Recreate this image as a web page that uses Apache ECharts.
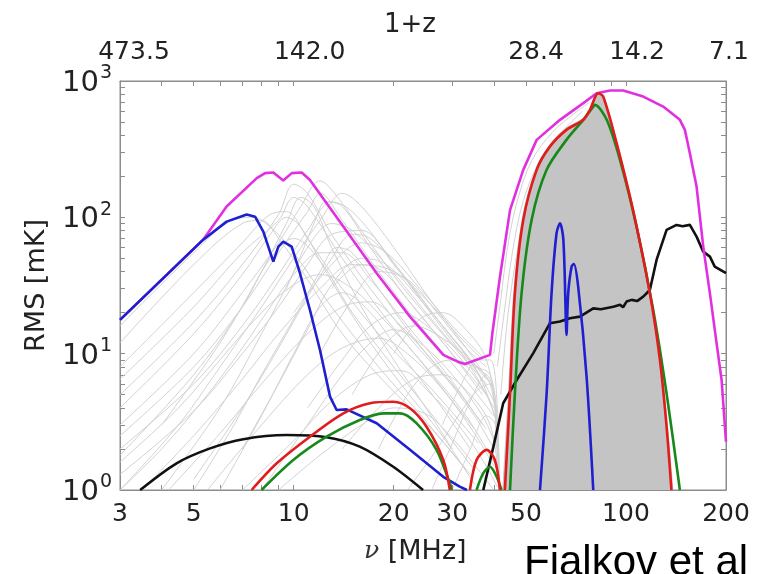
<!DOCTYPE html>
<html><head><meta charset="utf-8">
<script src="https://cdn.jsdelivr.net/npm/echarts@6/dist/echarts.min.js"></script>
<style>html,body{margin:0;padding:0;background:#fff}#c{width:759px;height:574px}</style>
</head><body><div id="c"></div>
<script>
// ---- axes / tick labels ----
const xTickLabels = [3, 5, 10, 20, 30, 50, 100, 200];
const xMinorTicks = [4, 5, 6, 7, 8, 9, 10, 20, 30, 40, 50, 60, 70, 80, 90, 100, 200];
const yMinorTicks = [2, 3, 4, 5, 6, 7, 8, 9, 10, 20, 30, 40, 50, 60, 70, 80, 90, 100, 200, 300, 400, 500, 600, 700, 800, 900];
const topTickValues = [3, 10, 50, 100, 200];
const topTickLabels = ['473.5', '142.0', '28.4', '14.2', '7.1'];

// ---- highlighted curves [nu MHz, RMS mK] ----
const magentaMax = [[3, 17.7], [5.33, 68.3], [6.28, 120], [7.74, 194], [8.2, 211], [8.68, 213], [9.3, 186], [9.86, 211], [10.57, 213], [11.19, 188], [14.1, 85.5], [17.77, 38.9], [22.38, 18.7], [28.19, 9.8], [31.27, 8.7], [32.76, 8.4], [38.97, 9.8], [39.6, 14], [41.76, 36.7], [44.77, 113], [49.07, 223], [53.85, 370], [63.3, 519], [74.4, 688], [81.6, 814], [89.5, 851], [98.1, 851], [112.7, 769], [129.4, 649], [145.3, 519], [150.4, 438], [155.7, 295], [163.1, 168], [170.8, 61], [178.9, 27.7], [187.4, 11.9], [194, 6.41], [200, 2.26]];
const blueLow = [[3, 17.7], [5.33, 68.3], [6.28, 93], [7.22, 105], [7.65, 101], [8.1, 78.5], [8.68, 47.3], [8.99, 61], [9.3, 66.3], [9.86, 61], [10.44, 38.9], [11.19, 20.9], [12.0, 10.6], [12.86, 4.84], [13.46, 3.86], [14.43, 3.9], [17.77, 3.09], [22.38, 1.97], [28.19, 1.25], [31.6, 1.06], [33.2, 1.0]];
const blueHigh = [[55.1, 1], [57.7, 5.1], [59.7, 27.7], [61.8, 76.4], [63.3, 90.5], [64.8, 68.3], [66.0, 15.8], [66.2, 13.7], [67.0, 27.7], [68.6, 43.5], [69.7, 45.5], [71.8, 31], [76.1, 6.8], [79.7, 1]];
const redLow = [[7.47, 1], [8.89, 1.57], [11.19, 2.46], [14.1, 3.65], [16.96, 4.33], [19.93, 4.44], [22.38, 3.98], [25.1, 2.91], [28.19, 1.66], [29.5, 1]];
const redMid = [[33.9, 1], [35.5, 1.66], [38.1, 1.97], [40.3, 1.66], [41.76, 1]];
const redHigh = [[43.2, 1], [44.77, 5.1], [46.3, 27.7], [49.07, 95.7], [53.85, 223], [59.0, 330], [66.2, 438], [74.4, 519], [77.9, 614], [82.5, 814], [85.4, 769], [93.7, 350], [105, 113], [118, 27.7], [126.5, 9.0], [132.5, 2.91], [137, 1]];
const greenLow = [[8.0, 1], [9.97, 1.66], [12.56, 2.46], [15.8, 3.26], [18.6, 3.65], [20.9, 3.65], [23.4, 3.09], [26.9, 1.97], [29.5, 1.12], [29.9, 1]];
const greenMid = [[35.5, 1], [37.2, 1.33], [38.97, 1.48], [40.8, 1.25], [42.2, 1]];
const greenHigh = [[44.77, 1], [46.3, 5.1], [48.5, 27.7], [52.0, 95.7], [57.7, 223], [66.2, 370], [74.4, 519], [79.7, 649], [80.6, 668], [87.5, 519], [95.9, 264], [107.6, 85.5], [120.8, 20.9], [132.5, 5.1], [145.3, 1]];
const blackLow = [[3.45, 1], [4.44, 1.57], [5.6, 2.02], [7.05, 2.36], [9.52, 2.53], [12.56, 2.44], [15.8, 2.08], [19.93, 1.48], [24.5, 1]];
const blackHigh = [[37.2, 1], [39.9, 2.08], [42.7, 4.33], [46.9, 6.41], [52.6, 10.1], [59.0, 16.7], [63.3, 17.2], [67.8, 18.2], [72.7, 18.7], [79.7, 21.5], [84, 21.2], [91.6, 22.1], [96, 22.8], [98, 21.9], [100.4, 24.1], [104, 24.8], [108, 24.3], [112.7, 26.2], [118, 29.3], [123.6, 48.7], [132.5, 80.8], [142, 88], [148, 86], [155.7, 88], [163.1, 72.2], [170.8, 56], [178.9, 51.5], [185, 43.5], [200, 38.9]];
const greyFill = [[42.5, 1], [44.2, 5.5], [45.8, 28], [48.6, 98], [53.4, 228], [58.6, 338], [65.6, 450], [73.8, 530], [77.5, 630], [82, 820], [85.8, 760], [94.5, 350], [106, 112], [119, 27], [128, 8.5], [134, 2.8], [139, 1]];

// ---- individual model curves (grey) ----
const grey01 = [[3, 12], [5, 45], [7, 90], [8, 95], [9, 70], [11, 35], [14, 14], [19, 6], [26, 2.8], [34, 1.3]];
const grey02 = [[3, 8], [5, 28], [7, 65], [8.5, 105], [9.5, 110], [11, 70], [14, 30], [19, 12], [26, 5.5], [36, 2.2]];
const grey03 = [[3, 5], [5, 17], [7, 45], [9, 105], [10, 175], [11, 150], [13, 75], [17, 30], [23, 12], [32, 5]];
const grey04 = [[3, 3], [5, 10], [7, 28], [9, 65], [10.5, 120], [12, 185], [13, 160], [16, 80], [21, 32], [28, 14], [38, 6]];
const grey05 = [[3, 2], [5, 6], [7, 16], [9, 38], [11, 80], [13, 130], [15, 110], [19, 55], [25, 22], [33, 9], [40, 4]];
const grey06 = [[3, 1.3], [5, 3.8], [7, 10], [9, 22], [11, 45], [13, 75], [16, 80], [20, 45], [27, 18], [36, 7], [41, 3]];
const grey07 = [[3.5, 1], [5, 2.5], [7, 6.5], [9, 14], [12, 30], [15, 45], [18, 42], [22, 25], [29, 11], [38, 5]];
const grey08 = [[4.2, 1], [6, 2.6], [8, 6], [11, 14], [14, 22], [17, 24], [21, 16], [27, 8], [35, 3.5], [40, 2]];
const grey09 = [[5.5, 1], [8, 3], [11, 7], [14, 11], [18, 13], [22, 10], [28, 5.5], [35, 2.6], [40, 1.5]];
const grey10 = [[7, 1], [10, 2.3], [13, 4.5], [17, 7], [21, 7.5], [26, 5], [32, 2.8], [38, 1.5], [41, 1.05]];
const grey11 = [[9, 1], [12, 1.8], [16, 3], [20, 4], [25, 3.6], [30, 2.4], [36, 1.4], [40, 1]];
const grey12 = [[4, 3], [6, 12], [8, 40], [9.5, 90], [10.5, 140], [11.5, 120], [13, 60], [16, 22], [20, 9], [25, 4], [30, 2]];
const grey13 = [[3, 1], [4.5, 3], [6, 8], [8, 22], [10, 50], [12, 95], [14, 150], [16, 120], [20, 60], [26, 24], [34, 10], [40, 5.5]];
const grey14 = [[12, 10], [15, 25], [18, 40], [22, 35], [27, 20], [33, 11], [38, 8]];
const grey15 = [[10, 20], [13, 45], [16, 65], [19, 55], [24, 30], [30, 16], [37, 9.5]];
const grey16 = [[15, 5], [19, 12], [23, 16], [28, 13], [34, 9], [39, 6], [41, 2], [41.5, 1]];
const grey17 = [[26, 1], [30, 2.2], [34, 4.5], [38, 7], [40, 5], [41, 1.5]];
const grey18 = [[22, 1], [27, 2], [32, 3.8], [36, 5.5], [39, 6], [41, 2.5], [41.5, 1]];
const grey19 = [[30, 1], [34, 2], [38, 3.5], [40.5, 3], [41.5, 1]];
const grey20 = [[40, 10], [42, 25], [44, 60], [47, 130], [52, 260], [60, 420], [70, 580], [78, 700]];
const grey21 = [[41, 8], [43, 20], [45.5, 55], [49, 130], [55, 260], [64, 420], [74, 600]];
const grey22 = [[42, 5], [44, 18], [47, 55], [51, 140], [57, 260], [66, 410]];
const grey23 = [[6, 1], [8, 3.5], [10, 10], [12, 22], [14, 28], [17, 20], [21, 10], [27, 4.5], [34, 2]];
const grey24 = [[3, 1.8], [5, 7], [7, 22], [8.5, 50], [10, 70], [12, 48], [15, 20], [20, 8], [27, 3.2], [35, 1.4]];
const grey25 = [[3, 16], [5, 55], [6.5, 95], [7.5, 100], [8.5, 85], [10, 55], [13, 22], [18, 8], [25, 3.2], [33, 1.4]];
const grey26 = [[4, 1], [6, 4], [8, 14], [10, 40], [11.5, 90], [12.5, 130], [14, 120], [17, 60], [22, 25], [29, 11], [37, 5]];
const grey27 = [[5, 1.2], [7, 4], [9, 11], [11, 26], [13, 50], [15, 75], [17, 70], [21, 40], [27, 18], [35, 8], [41, 4]];
const grey28 = [[8, 1], [11, 3], [14, 7], [17, 12], [20, 15], [24, 12], [30, 7], [37, 3.5], [41, 2]];
const grey29 = [[3, 6.5], [5, 22], [7, 55], [9, 95], [10, 140], [11, 120], [14, 50], [19, 18], [26, 7], [35, 2.8]];
const grey30 = [[3, 2.5], [5, 8], [7, 22], [9, 55], [11, 110], [12, 150], [14, 95], [18, 40], [24, 16], [32, 7], [40, 3.5]];
const grey31 = [[9.5, 30], [11, 60], [13, 90], [15, 80], [19, 45], [25, 20], [32, 10], [38, 7]];
const grey32 = [[13, 30], [16, 45], [20, 40], [25, 25], [31, 14], [37, 9]];
const grey33 = [[7, 2], [9, 6], [11, 15], [13, 32], [16, 50], [19, 45], [24, 25], [31, 12], [38, 6.5]];
const grey34 = [[11, 4], [14, 9], [17, 16], [21, 20], [26, 15], [32, 9], [38, 5], [41, 3]];
const grey35 = [[3, 1], [4, 2], [5.5, 5], [7, 11], [8.5, 22], [10, 38], [12, 55], [14, 55], [17, 35], [22, 16], [29, 7], [37, 3]];
const grey36 = [[5, 1], [6.5, 2.8], [8, 7], [10, 18], [12, 40], [13.5, 60], [15, 55], [18, 30], [23, 13], [30, 6], [38, 2.8]];
const grey37 = [[18, 2], [22, 5], [26, 8], [30, 9], [35, 8], [39, 7], [41, 3], [41.5, 1]];
const grey38 = [[14, 2], [18, 4], [23, 6.5], [28, 7], [34, 5], [39, 3], [41, 1.5]];
const grey39 = [[3, 4], [5, 14], [7, 38], [8.5, 75], [9.5, 100], [10.5, 85], [12.5, 40], [16, 15], [21, 6], [28, 2.5], [35, 1.1]];
const grey40 = [[20, 10], [24, 18], [28, 20], [33, 15], [38, 9], [41, 3], [41.5, 1]];
const grey41 = [[28, 3], [32, 6], [36, 9], [39, 9], [41, 4], [41.5, 1]];
const grey42 = [[3, 1.6], [4.5, 4], [6, 9], [8, 20], [10, 32], [12, 38], [15, 30], [19, 17], [25, 8], [33, 3.5], [40, 1.6]];
const greyList = [grey01, grey02, grey03, grey04, grey05, grey06, grey07, grey08, grey09, grey10, grey11, grey12, grey13, grey14,
  grey15, grey16, grey17, grey18, grey19, grey20, grey21, grey22, grey23, grey24, grey25, grey26, grey27, grey28, grey29, grey30,
  grey31, grey32, grey33, grey34, grey35, grey36, grey37, grey38, grey39, grey40, grey41, grey42];

const topOffsets = [14, 16, 10, 11, 3];
const FONT = 'DejaVu Sans';
const chart = echarts.init(document.getElementById('c'), null, {renderer: 'canvas'});

const series = [];
greyList.forEach(function (d) {
  series.push({type: 'line', data: d, smooth: 0.35, symbol: 'none', silent: true,
    lineStyle: {color: '#d2d2d2', width: 1}, z: 1});
});
series.push({type: 'line', data: greyFill, smooth: 0.3, symbol: 'none', silent: true,
  lineStyle: {width: 0, color: '#c4c4c4'}, areaStyle: {color: '#c4c4c4', origin: 'start', opacity: 1}, z: 2});
function curve(d, color, sm, z) {
  return {type: 'line', data: d, smooth: sm, symbol: 'none', silent: true,
    lineStyle: {color: color, width: 2.6}, z: z};
}
const BLACK = '#111111', BLUE = '#1f1fd2', RED = '#e01c1c', GREEN = '#17881a', MAG = '#e030e0';
series.push(curve(blackLow, BLACK, 0.3, 3));
series.push(curve(blackHigh, BLACK, 0, 3));
series.push(curve(magentaMax, MAG, 0, 4));
series.push(curve(blueLow, BLUE, 0, 5));
series.push(curve(blueHigh, BLUE, 0.3, 5));
series.push(curve(greenLow, GREEN, 0.3, 6));
series.push(curve(greenMid, GREEN, 0.3, 6));
series.push(curve(greenHigh, GREEN, 0.3, 6));
series.push(curve(redLow, RED, 0.3, 7));
series.push(curve(redMid, RED, 0.3, 7));
series.push(curve(redHigh, RED, 0.3, 7));

const topRich = {};
topOffsets.forEach(function (o, i) { topRich['t' + i] = {padding: [0, 0, 0, 2 * o], fontSize: 25, fontFamily: FONT, color: '#222'}; });

const axisLineStyle = {show: true, lineStyle: {color: '#8c8c8c', width: 1}};
const option = {
  animation: false,
  backgroundColor: '#ffffff',
  grid: {left: 120, right: 33, top: 81, bottom: 84, show: true, borderColor: '#8c8c8c', borderWidth: 1, backgroundColor: 'transparent'},
  xAxis: [
    {type: 'log', logBase: 10, min: 3, max: 200, position: 'bottom',
      axisLine: axisLineStyle,
      axisTick: {show: true, inside: true, length: 5, customValues: xMinorTicks, lineStyle: {color: '#8c8c8c'}},
      axisLabel: {customValues: xTickLabels, margin: 12, fontSize: 25, fontFamily: FONT, color: '#222',
        formatter: function (v) { return String(Math.round(v)); }},
      splitLine: {show: false}},
    {type: 'log', logBase: 10, min: 3, max: 200, position: 'top',
      axisLine: axisLineStyle,
      axisTick: {show: true, inside: true, length: 5, customValues: xMinorTicks, lineStyle: {color: '#8c8c8c'}},
      axisLabel: {customValues: topTickValues, margin: 16, rich: topRich,
        formatter: function (v) {
          let best = 0;
          topTickValues.forEach(function (t, i) { if (Math.abs(t - v) < Math.abs(topTickValues[best] - v)) best = i; });
          return '{t' + best + '|' + topTickLabels[best] + '}';
        }},
      splitLine: {show: false}}
  ],
  yAxis: [
    {type: 'log', logBase: 10, min: 1, max: 1000, position: 'left',
      name: 'RMS [mK]', nameLocation: 'middle', nameGap: 70,
      nameTextStyle: {fontSize: 27, fontFamily: FONT, color: '#222'},
      axisLine: axisLineStyle,
      axisTick: {show: true, inside: true, length: 5, customValues: yMinorTicks, lineStyle: {color: '#8c8c8c'}},
      axisLabel: {margin: 8, formatter: function (v) {
          const e = Math.round(Math.log10(v));
          return '{b|10}{s|' + e + '}';
        },
        rich: {b: {fontSize: 29, fontFamily: FONT, color: '#222', lineHeight: 34, verticalAlign: 'bottom'},
               s: {fontSize: 19, fontFamily: FONT, color: '#222', lineHeight: 34, verticalAlign: 'top', padding: [0, 0, 0, 1]}}},
      splitLine: {show: false}},
    {type: 'log', logBase: 10, min: 1, max: 1000, position: 'right',
      axisLine: axisLineStyle,
      axisTick: {show: true, inside: true, length: 5, customValues: yMinorTicks, lineStyle: {color: '#8c8c8c'}},
      axisLabel: {show: false},
      splitLine: {show: false}}
  ],
  graphic: [
    {type: 'text', left: 384, top: 12, style: {text: '1+z', fontSize: 26, fontFamily: FONT, fill: '#222'}},
    {type: 'text', left: 364, top: 538, style: {text: '{i|\u03bd} [MHz]', rich: {i: {fontSize: 25, fontFamily: 'DejaVu Serif', fontStyle: 'italic', fill: '#333'}}, fontSize: 27, fontFamily: FONT, fill: '#222'}},
    {type: 'text', left: 524, top: 542, style: {text: 'Fialkov et al', fontSize: 42, fontFamily: 'Liberation Sans', fill: '#000'}}
  ],
  series: series
};
chart.setOption(option);
</script>
</body></html>
